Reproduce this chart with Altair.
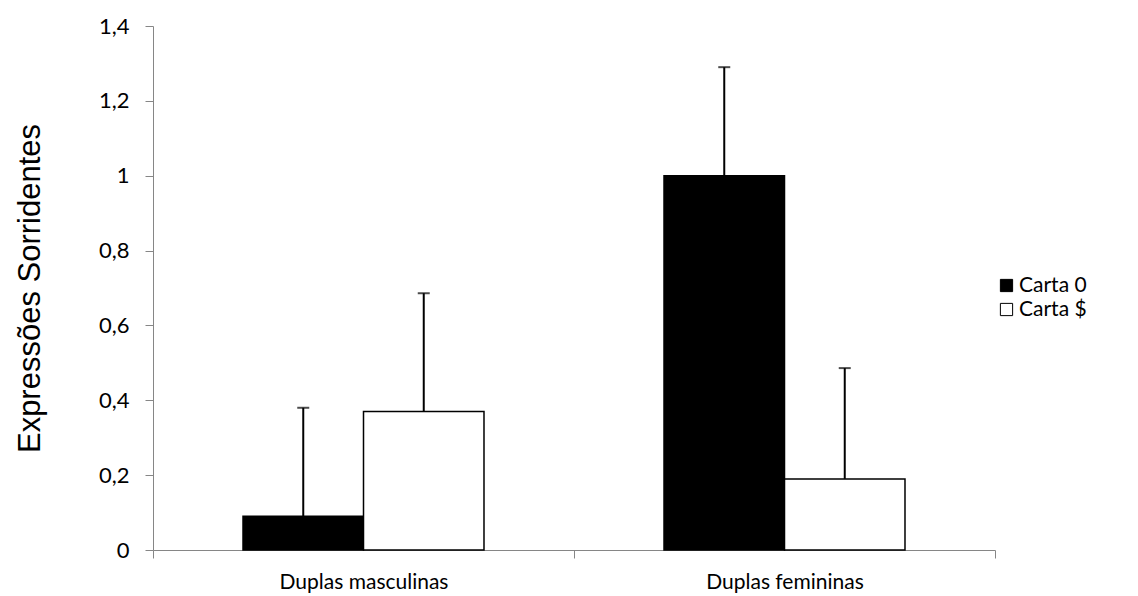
import altair as alt
import pandas as pd

categories = ["Duplas masculinas", "Duplas femininas"]
series = ["Carta 0", "Carta $"]
carta0_values = [0.09, 1.00]
carta0_errors = [0.29, 0.29]
cartaS_values = [0.37, 0.19]
cartaS_errors = [0.316, 0.296]

rows = []
for i, c in enumerate(categories):
    rows.append({"cat": c, "serie": series[0], "v": carta0_values[i], "up": carta0_values[i] + carta0_errors[i]})
    rows.append({"cat": c, "serie": series[1], "v": cartaS_values[i], "up": cartaS_values[i] + cartaS_errors[i]})
df = pd.DataFrame(rows)

LABEL_FONT = "Lato"
AX = "#868686"

x = alt.X("cat:N", sort=categories, title=None,
          scale=alt.Scale(paddingInner=0, paddingOuter=0),
          axis=alt.Axis(labelFont=LABEL_FONT, labelFontSize=21, labelColor="black",
                        labelAngle=0, tickBand="extent", tickSize=8, tickColor=AX,
                        domainColor=AX, labelPadding=13))
xo = alt.XOffset("serie:N", sort=series,
                 scale=alt.Scale(paddingInner=0, paddingOuter=0.747))

bars = alt.Chart(df).mark_bar(stroke="black", strokeWidth=1.5).encode(
    x=x,
    xOffset=xo,
    y=alt.Y("v:Q", title="Expressões Sorridentes",
            scale=alt.Scale(domain=[0, 1.4], nice=False),
            axis=alt.Axis(values=[0, 0.2, 0.4, 0.6, 0.8, 1.0, 1.2, 1.4],
                          labelExpr="replace(format(datum.value, '.1~f'), '.', ',')",
                          labelFont=LABEL_FONT, labelFontSize=22, labelColor="black",
                          tickSize=8, tickColor=AX, domainColor=AX, labelPadding=16,
                          grid=False, titleFont="Liberation Sans", titleFontSize=31,
                          titleFontWeight="normal", titleColor="black", titlePadding=52)),
    fill=alt.Fill("serie:N", sort=series,
                  scale=alt.Scale(domain=series, range=["black", "white"]),
                  legend=alt.Legend(title=None, orient="none", legendX=843, legendY=249,
                                    symbolType="square", symbolSize=150,
                                    symbolStrokeColor="black", symbolStrokeWidth=1,
                                    labelFont=LABEL_FONT, labelFontSize=21, labelColor="black",
                                    rowPadding=2, labelOffset=2)),
)

rules = alt.Chart(df).mark_rule(color="black", strokeWidth=2).encode(
    x=alt.X("cat:N", sort=categories),
    xOffset=xo,
    y="v:Q",
    y2="up:Q",
)

caps = alt.Chart(df).mark_tick(color="black", size=12, thickness=2).encode(
    x=alt.X("cat:N", sort=categories),
    xOffset=xo,
    y="up:Q",
)

chart = alt.layer(bars, rules, caps).properties(
    width=842, height=524,
    autosize=alt.AutoSizeParams(type="none"),
    padding={"left": 145, "top": 18, "right": 135, "bottom": 46},
).configure_view(stroke=None).configure_axis(domainWidth=1, tickWidth=1)

chart.save("out.html", embed_options={"renderer": "svg", "actions": False})
